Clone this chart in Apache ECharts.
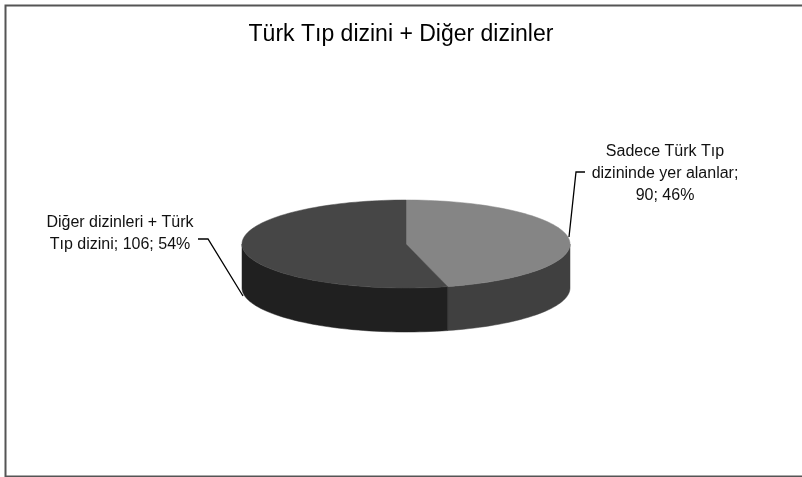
<!DOCTYPE html>
<html>
<head>
<meta charset="utf-8">
<script src="https://cdn.jsdelivr.net/npm/echarts@6/dist/echarts.min.js"></script>
<style>
html,body{margin:0;padding:0;background:#fff;}
#chart{width:802px;height:477px;}
</style>
</head>
<body>
<div id="chart"></div>
<script>
// ---- data ----
const chartTitle = 'Türk Tıp dizini + Diğer dizinler';
const categories = ['Sadece Türk Tıp\ndizininde yer alanlar', 'Diğer dizinleri + Türk\nTıp dizini'];
const values = [90, 106];
const labelSeparators = [';\n', '; '];
const topColors = ['#858585', '#464646'];
const sideColors = ['#404040', '#202020'];

const total = values.reduce((a, b) => a + b, 0);
const percents = values.map(v => Math.round(v / total * 100));

// geometry (layout, not data)
const CX = 406, CY = 244, RX = 164, RY = 44, DEPTH = 44;
const labelPos = [[665, 141], [120, 212]];
const leaderLines = [
  [[585, 172], [576, 172], [569, 237]],
  [[198, 239], [208, 239], [243, 296]]
];
const FONT = 'Liberation Sans, Arial, sans-serif';

function pt(theta, dy) {
  // theta: degrees clockwise from 12 o'clock
  const r = theta * Math.PI / 180;
  return [CX + RX * Math.sin(r), CY - RY * Math.cos(r) + (dy || 0)];
}

function arcPoints(a, b, dy) {
  const pts = [];
  const n = Math.max(2, Math.ceil(Math.abs(b - a) / 2));
  for (let i = 0; i <= n; i++) pts.push(pt(a + (b - a) * i / n, dy));
  return pts;
}

const starts = [];
let acc = 0;
values.forEach(v => { starts.push(acc / total * 360); acc += v; });

function renderItem(params, api) {
  const i = params.dataIndex;
  const v = api.value(0);
  const a = starts[i];
  const b = a + v / total * 360;
  const children = [];
  // visible front side: theta in [90, 270]
  const sa = Math.max(a, 90), sb = Math.min(b, 270);
  if (sb > sa) {
    const top = arcPoints(sa, sb, 0);
    const bot = arcPoints(sb, sa, DEPTH);
    children.push({
      type: 'polygon', z2: 1,
      shape: { points: top.concat(bot) },
      style: { fill: sideColors[i], stroke: sideColors[i], lineWidth: 0.5 }
    });
  }
  // top face
  children.push({
    type: 'polygon', z2: 5,
    shape: { points: [[CX, CY]].concat(arcPoints(a, b, 0)) },
    style: { fill: topColors[i], stroke: topColors[i], lineWidth: 0.5 }
  });
  // leader line
  children.push({
    type: 'polyline', z2: 8,
    shape: { points: leaderLines[i] },
    style: { stroke: '#000', lineWidth: 1.3, fill: null }
  });
  // label
  children.push({
    type: 'text', z2: 9,
    x: labelPos[i][0], y: labelPos[i][1],
    style: {
      text: categories[i] + labelSeparators[i] + values[i] + '; ' + percents[i] + '%',
      fontFamily: FONT,
      fontSize: 16, lineHeight: 22,
      fill: '#111', align: 'center', verticalAlign: 'top'
    }
  });
  return { type: 'group', children: children };
}

const chart = echarts.init(document.getElementById('chart'));
chart.setOption({
  backgroundColor: '#fff',
  animation: false,
  title: {
    text: chartTitle, left: 'center', top: 18, padding: [5, 0, 5, 7],
    textStyle: { fontFamily: FONT, fontSize: 23, fontWeight: 'normal', color: '#000' }
  },
  graphic: [{
    type: 'rect', left: 3, top: 3,
    shape: { width: 820, height: 471 },
    style: { fill: null, stroke: '#555', lineWidth: 2 }, z: -1
  }],
  series: [{
    type: 'custom',
    coordinateSystem: 'none',
    renderItem: renderItem,
    data: values.map((v, i) => ({ name: categories[i], value: [v] }))
  }]
});
</script>
</body>
</html>
